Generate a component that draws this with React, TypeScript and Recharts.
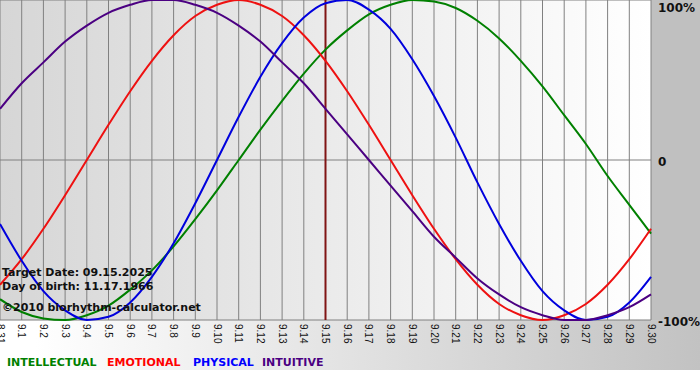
import React from 'react';
import { LineChart, Line, XAxis, YAxis, CartesianGrid, ReferenceLine } from 'recharts';

// Day labels 8.31 .. 9.30
const dates = [
  '8.31', '9.1', '9.2', '9.3', '9.4', '9.5', '9.6', '9.7', '9.8', '9.9', '9.10',
  '9.11', '9.12', '9.13', '9.14', '9.15', '9.16', '9.17', '9.18', '9.19', '9.20',
  '9.21', '9.22', '9.23', '9.24', '9.25', '9.26', '9.27', '9.28', '9.29', '9.30',
];

// Values in percent
const intellectual = [-87, -95, -99, -100, -97, -91, -81, -69, -54, -37, -19, 0, 19, 37, 54, 69, 81, 91, 97, 100, 99, 95, 87, 76, 62, 46, 28, 10, -10, -28, -46];
const emotional = [-78, -62, -43, -22, 0, 22, 43, 62, 78, 90, 97, 100, 97, 90, 78, 62, 43, 22, 0, -22, -43, -62, -78, -90, -97, -100, -97, -90, -78, -62, -43];
const physical = [-40, -63, -82, -94, -100, -98, -89, -73, -52, -27, 0, 27, 52, 73, 89, 98, 100, 94, 82, 63, 40, 14, -14, -40, -63, -82, -94, -100, -98, -89, -73];
const intuitive = [32, 48, 61, 74, 84, 92, 97, 100, 100, 97, 92, 84, 74, 61, 48, 32, 16, 0, -16, -32, -48, -61, -74, -84, -92, -97, -100, -100, -97, -92, -84];

const yTicks = [-100, 0, 100];
const targetIndex = 15;

const data = dates.map((label, i) => ({
  day: i,
  label,
  intellectual: intellectual[i],
  emotional: emotional[i],
  physical: physical[i],
  intuitive: intuitive[i],
}));

const FONT = '"DejaVu Sans", Verdana, sans-serif';

const XTick = ({ x, y, payload }: any) => (
  <text
    x={x}
    y={y}
    transform={`rotate(90 ${x} ${y})`}
    textAnchor="start"
    dominantBaseline="central"
    fontFamily="'Liberation Sans', Arial, sans-serif"
    fontSize={10}
    fill="#111"
  >
    {dates[payload.value]}
  </text>
);

const YTick = ({ x, y, payload }: any) => {
  const v = payload.value;
  const label = v === 0 ? '0' : `${v}%`;
  return (
    <text
      x={x}
      y={v === 100 ? 8 : y + 2}
      textAnchor="start"
      dominantBaseline="central"
      fontFamily={FONT}
      fontWeight="bold"
      fontSize={12}
      fill="#111"
    >
      {label}
    </text>
  );
};

export default function App() {
  return (
    <div style={{ position: 'absolute', left: 0, top: 0, width: 700, height: 380, background: '#fff', overflow: 'hidden' }}>
      {/* backgrounds */}
      <div style={{ position: 'absolute', left: 0, top: 0, width: 651, height: 320, background: 'linear-gradient(to right, #d6d6d6, #ffffff)' }} />
      <div style={{ position: 'absolute', left: 0, top: 320, width: 700, height: 50, background: 'linear-gradient(to right, #ffffff 5%, #c2c2c2 100%)' }} />
      <div style={{ position: 'absolute', left: 651, top: 0, width: 49, height: 320, background: '#c0c0c0' }} />

      <div style={{ position: 'absolute', left: 0, top: 0 }}>
        <LineChart width={700} height={380} data={data} margin={{ top: 0, right: 0, left: 0, bottom: 10 }}>
          <CartesianGrid stroke="#808080" strokeWidth={1} />
          <XAxis
            dataKey="day"
            type="number"
            domain={[0, 30]}
            ticks={dates.map((_, i) => i)}
            interval={0}
            height={50}
            axisLine={false}
            tickLine={false}
            tickSize={0}
            tickMargin={4}
            tick={<XTick />}
          />
          <YAxis
            orientation="right"
            width={49}
            domain={[-100, 100]}
            ticks={yTicks}
            axisLine={false}
            tickLine={false}
            tickSize={0}
            tickMargin={7}
            tick={<YTick />}
          />
          <ReferenceLine x={targetIndex} stroke="#801515" strokeWidth={2} />
          <Line type="monotone" dataKey="intellectual" stroke="#008000" strokeWidth={2} dot={false} activeDot={false} isAnimationActive={false} />
          <Line type="monotone" dataKey="emotional" stroke="#ee1111" strokeWidth={2} dot={false} activeDot={false} isAnimationActive={false} />
          <Line type="monotone" dataKey="physical" stroke="#0000dd" strokeWidth={2} dot={false} activeDot={false} isAnimationActive={false} />
          <Line type="monotone" dataKey="intuitive" stroke="#4b0082" strokeWidth={2} dot={false} activeDot={false} isAnimationActive={false} />
        </LineChart>
      </div>

      {/* overlay texts and legend */}
      <svg width={700} height={380} style={{ position: 'absolute', left: 0, top: 0, pointerEvents: 'none' }}>
        <g fontFamily={FONT} fontWeight="bold" fontSize={11} fill="#111">
          <text x={2} y={276}>Target Date: 09.15.2025</text>
          <text x={2} y={290}>Day of birth: 11.17.1966</text>
          <text x={2} y={311}>©2010 biorhythm-calculator.net</text>
        </g>
        <g fontFamily={FONT} fontWeight="bold" fontSize={11}>
          <text x={7} y={366} fill="#008000">INTELLECTUAL</text>
          <text x={107} y={366} fill="#ff0000">EMOTIONAL</text>
          <text x={193} y={366} fill="#0000ff">PHYSICAL</text>
          <text x={262} y={366} fill="#4b0082">INTUITIVE</text>
        </g>
      </svg>
    </div>
  );
}
